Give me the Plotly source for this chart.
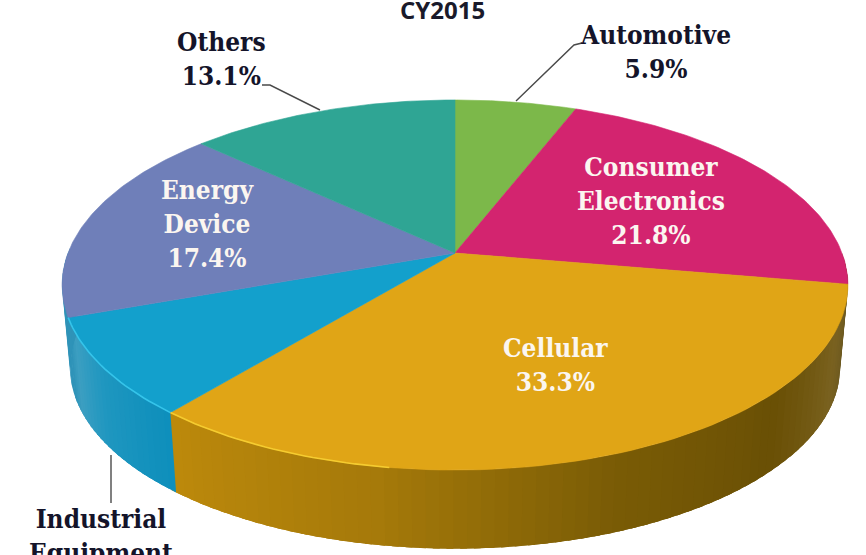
import numpy as np
import plotly.graph_objects as go

# ---- data ----
categories = ["Automotive", "Consumer Electronics", "Cellular", "Industrial Equipment", "Energy Device", "Others"]
shares = [5.9, 21.8, 33.3, 8.5, 17.4, 13.1]
title_text = "CY2015"

# ---- style ----
top_colors = ["#7cb84a", "#d3246f", "#e0a516", "#13a0cc", "#6f7fb9", "#2fa594"]
wall_stops = {
    2: [(0.0, "#bd8a0c"), (0.25, "#a67a0a"), (0.5, "#7a5c06"), (0.72, "#6a5005"), (0.88, "#7a6220"), (0.96, "#6e5a20"), (1.0, "#3f3208")],
    3: [(0.0, "#2f93b8"), (0.15, "#3d9fc2"), (0.5, "#1f97c0"), (1.0, "#0e8fbc")],
    4: [(0.0, "#2f93b8"), (1.0, "#2f93b8")],
    1: [(0.0, "#5e4a0a"), (1.0, "#5e4a0a")],
}

W, H = 866, 555
HUB_X, HUB_Y = 455, 253
A, B, P = 387.0, 179.5, 0.173   # perspective disc
SCALE, DEPTH = 0.98, 83


def project(theta, scale=1.0, drop=0.0):
    """theta in radians, clockwise from 12 o'clock."""
    u, v = np.sin(theta), np.cos(theta)
    w = 1 + P * v
    return HUB_X + scale * A * u / w, HUB_Y - scale * B * v / w + drop


def hexrgb(c):
    return np.array([int(c[i:i + 2], 16) for i in (1, 3, 5)], float)


def mix(stops, t):
    for (t0, c0), (t1, c1) in zip(stops, stops[1:]):
        if t <= t1:
            f = (t - t0) / max(t1 - t0, 1e-9)
            rgb = hexrgb(c0) * (1 - f) + hexrgb(c1) * f
            return "rgb(%d,%d,%d)" % tuple(rgb)
    return stops[-1][1]


edges = 2 * np.pi * np.cumsum([0] + shares) / sum(shares)
fig = go.Figure()


def poly(x, y, color, width=0.6):
    fig.add_trace(go.Scatter(x=x, y=y, mode="lines", fill="toself", fillcolor=color,
                             line=dict(color=color, width=width), hoverinfo="skip", showlegend=False))


# side wall, drawn first; neighbouring strips overlap so no seams show
for i in (1, 2, 3, 4):
    a0, a1 = max(edges[i], np.pi / 2), min(edges[i + 1], 1.5 * np.pi)
    n = 70 if i == 2 else 24 if i == 3 else 6
    cuts = np.linspace(a0, a1, n + 1)
    step = cuts[1] - cuts[0]
    for j in range(n):
        end = cuts[j + 1] + (1.5 * step if j < n - 1 else 0)
        th = np.linspace(cuts[j], end, 5)
        x0, y0 = project(th)
        x1, y1 = project(th[::-1], SCALE, DEPTH)
        t = 1 - (j + 0.5) / n
        fig.add_trace(go.Scatter(x=np.r_[x0, x1, x0[0]], y=np.r_[y0, y1, y0[0]], mode="lines", fill="toself",
                                 fillcolor=mix(wall_stops[i], t), line=dict(width=0), hoverinfo="skip", showlegend=False))

# top surface
for i, color in enumerate(top_colors):
    th = np.linspace(edges[i], edges[i + 1], 80)
    x, y = project(th)
    poly(np.r_[HUB_X, x, HUB_X], np.r_[HUB_Y, y, HUB_Y], color)

# rim highlights
th = np.linspace(edges[3] - 0.55, edges[3], 30)
x, y = project(th)
fig.add_trace(go.Scatter(x=x, y=y, mode="lines", line=dict(color="#f5cc30", width=1.6), hoverinfo="skip", showlegend=False))
th = np.linspace(edges[3], edges[4], 30)
x, y = project(th)
fig.add_trace(go.Scatter(x=x, y=y, mode="lines", line=dict(color="#35c4ea", width=1.6), hoverinfo="skip", showlegend=False))

# leader lines
for lx, ly in [([262, 270, 320], [85, 85, 110]), ([582, 574, 516], [43, 45, 101]), ([111, 111], [455, 503])]:
    fig.add_trace(go.Scatter(x=lx, y=ly, mode="lines", line=dict(color="#4a4a4a", width=1.4), hoverinfo="skip", showlegend=False))

FONT = "DejaVu Serif Condensed, DejaVu Serif, serif"
DARK, LIGHT = "#14142a", "#fbf6f0"


def pct(i):
    return f"{shares[i]}%"


labels = [
    (221, 59, f"{categories[5]}<br>{pct(5)}", DARK),
    (655, 52, f"{categories[0]}<br>{pct(0)}", DARK),
    (651, 201, f"Consumer<br>Electronics<br>{pct(1)}", LIGHT),
    (207, 224, f"Energy<br>Device<br>{pct(4)}", LIGHT),
    (555, 365, f"{categories[2]}<br>{pct(2)}", LIGHT),
    (101, 536, "Industrial<br>Equipment", DARK),
]
ann = [dict(x=x, y=y, text=t, showarrow=False, xanchor="center", yanchor="middle",
            font=dict(family=FONT, size=26, color=c, weight="bold")) for x, y, t, c in labels]
ann.append(dict(x=442, y=9, text=title_text, showarrow=False, xanchor="center", yanchor="middle",
                font=dict(family="Open Sans", size=24, color="#1a1a2a", weight="bold")))

fig.update_layout(
    width=W, height=H, margin=dict(l=0, r=0, t=0, b=0),
    paper_bgcolor="white", plot_bgcolor="white", showlegend=False, annotations=ann,
    xaxis=dict(range=[0, W], visible=False, fixedrange=True),
    yaxis=dict(range=[H, 0], visible=False, fixedrange=True),
)
fig.write_html("out.html", config=dict(displayModeBar=False),
               post_script="document.body.style.margin='0';document.body.style.overflow='hidden';")
